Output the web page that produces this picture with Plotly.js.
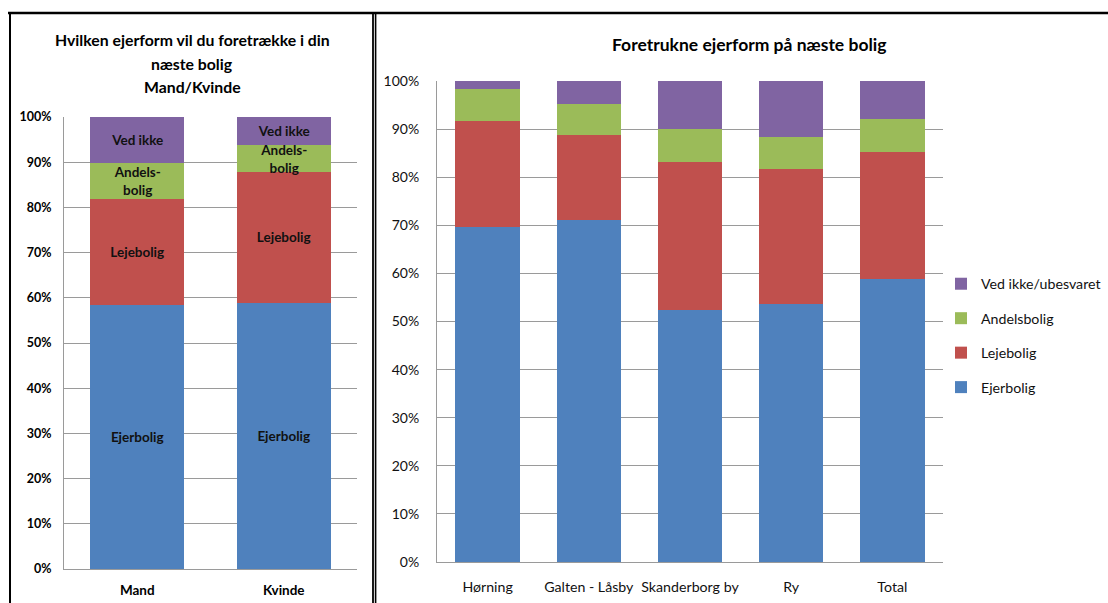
<!DOCTYPE html>
<html>
<head>
<meta charset="utf-8">
<script src="https://cdn.plot.ly/plotly-3.0.1.min.js"></script>
<style>
  html, body { margin: 0; padding: 0; background: #fff; }
  #chart { width: 1108px; height: 603px; }
</style>
</head>
<body>
<div id="chart"></div>
<script>
// Preferred type of tenure for the next home, by gender and by area (percent)
const genderCats = ['Mand', 'Kvinde'];
const areaCats = ['Hørning', 'Galten - Låsby', 'Skanderborg by', 'Ry', 'Total'];

const genderEjerbolig = [58.4, 58.9];
const genderLejebolig = [23.5, 28.9];
const genderAndelsbolig = [8.0, 5.9];
const genderVedIkke = [10.1, 6.3];

const areaEjerbolig = [69.6, 71.2, 52.4, 53.6, 58.9];
const areaLejebolig = [22.0, 17.5, 30.8, 28.2, 26.4];
const areaAndelsbolig = [6.7, 6.5, 6.8, 6.6, 6.7];
const areaVedIkke = [1.7, 4.8, 10.0, 11.6, 8.0];

const genderSegmentLabels = ['Ejerbolig', 'Lejebolig', 'Andels-<br>bolig', 'Ved ikke'];
const legendNames = ['Ejerbolig', 'Lejebolig', 'Andelsbolig', 'Ved ikke/ubesvaret'];
const leftTitleLines = ['Hvilken ejerform vil du foretrække i din', 'næste bolig', 'Mand/Kvinde'];
const rightTitle = 'Foretrukne ejerform på næste bolig';
const yTicks = [0, 10, 20, 30, 40, 50, 60, 70, 80, 90, 100];
const yTickText = yTicks.map(v => v + '%');

const COLORS = ['#4F81BD', '#C0504D', '#9BBB59', '#8064A2'];
const FONT = "Lato, 'Open Sans', sans-serif";

const W = 1108, H = 603;
const px = v => v / W;
const py = v => 1 - v / H;

const genderSeries = [genderEjerbolig, genderLejebolig, genderAndelsbolig, genderVedIkke];
const areaSeries = [areaEjerbolig, areaLejebolig, areaAndelsbolig, areaVedIkke];

const traces = [];

// left panel: stacked bars with the segment name written inside
genderSeries.forEach((vals, i) => {
  traces.push({
    type: 'bar',
    x: genderCats,
    y: vals,
    xaxis: 'x',
    yaxis: 'y',
    width: 0.64,
    name: legendNames[i],
    showlegend: false,
    marker: { color: COLORS[i], line: { width: 0 } },
    text: genderCats.map(() => genderSegmentLabels[i]),
    textposition: 'inside',
    insidetextanchor: 'middle',
    textangle: 0,
    constraintext: 'none',
    insidetextfont: { family: FONT, size: 13.5, color: '#111', weight: 'bold' },
    hoverinfo: 'x+y+name'
  });
});

// right panel: stacked bars per area, with legend
areaSeries.forEach((vals, i) => {
  traces.push({
    type: 'bar',
    x: areaCats,
    y: vals,
    xaxis: 'x2',
    yaxis: 'y2',
    width: 0.635,
    name: legendNames[i],
    legendgroup: 'g' + i,
    legendrank: 4 - i,
    marker: { color: COLORS[i], line: { width: 0 } },
    hoverinfo: 'x+y+name'
  });
});

const gridColor = '#9a9a9a';

const titleAnnotations = leftTitleLines.map((line, i) => ({
  xref: 'paper', yref: 'paper',
  x: px(192), y: py(39.5 + i * 23.7), xanchor: 'center', yanchor: 'middle',
  showarrow: false,
  text: line,
  font: { family: FONT, size: 15.8, color: '#000', weight: 'bold' }
}));

titleAnnotations.push({
  xref: 'paper', yref: 'paper',
  x: px(749), y: py(44), xanchor: 'center', yanchor: 'middle',
  showarrow: false,
  text: rightTitle,
  font: { family: FONT, size: 17.5, color: '#000', weight: 'bold' }
});

const layout = {
  width: W,
  height: H,
  margin: { l: 0, r: 0, t: 0, b: 0, autoexpand: false },
  paper_bgcolor: '#fff',
  plot_bgcolor: 'rgba(0,0,0,0)',
  barmode: 'stack',
  font: { family: FONT, color: '#000' },
  showlegend: true,
  legend: {
    x: px(941), xanchor: 'left',
    y: py(268), yanchor: 'top',
    traceorder: 'grouped',
    tracegroupgap: 13,
    itemwidth: 30,
    font: { family: FONT, size: 14.2, color: '#111' },
    bgcolor: 'rgba(0,0,0,0)'
  },
  xaxis: {
    domain: [px(64), px(357)],
    anchor: 'y',
    type: 'category',
    showgrid: false,
    showline: true, linecolor: gridColor, linewidth: 1,
    ticks: '',
    ticklabelstandoff: 9,
    tickfont: { family: FONT, size: 13.5, color: '#000', weight: 'bold' },
    fixedrange: true
  },
  yaxis: {
    domain: [py(569), py(117)],
    anchor: 'x',
    range: [0, 100],
    tickvals: yTicks,
    ticktext: yTickText,
    showgrid: true, gridcolor: gridColor, gridwidth: 1,
    zeroline: false,
    showline: true, linecolor: gridColor, linewidth: 1,
    ticks: '',
    ticklabelstandoff: 9,
    tickfont: { family: FONT, size: 12.5, color: '#000', weight: 'bold' },
    fixedrange: true
  },
  xaxis2: {
    domain: [px(437), px(943)],
    anchor: 'y2',
    type: 'category',
    showgrid: false,
    showline: true, linecolor: gridColor, linewidth: 1,
    ticks: '',
    tickangle: 0,
    ticklabelstandoff: 12,
    tickfont: { family: FONT, size: 14.2, color: '#111' },
    fixedrange: true
  },
  yaxis2: {
    domain: [py(562), py(81)],
    anchor: 'x2',
    range: [0, 100],
    tickvals: yTicks,
    ticktext: yTickText,
    showgrid: true, gridcolor: gridColor, gridwidth: 1,
    zeroline: false,
    showline: true, linecolor: gridColor, linewidth: 1,
    ticks: '',
    ticklabelstandoff: 14,
    tickfont: { family: FONT, size: 14, color: '#111' },
    fixedrange: true
  },
  annotations: titleAnnotations,
  shapes: [
    // panel frames
    { type: 'line', xref: 'paper', yref: 'paper', x0: px(8), x1: px(1108), y0: py(13), y1: py(13), line: { color: '#000', width: 2.5 } },
    { type: 'line', xref: 'paper', yref: 'paper', x0: px(10), x1: px(10), y0: py(12), y1: py(603), line: { color: '#000', width: 2 } },
    { type: 'line', xref: 'paper', yref: 'paper', x0: px(373), x1: px(373), y0: py(12), y1: py(603), line: { color: '#000', width: 1.8 } },
    { type: 'line', xref: 'paper', yref: 'paper', x0: px(375.6), x1: px(375.6), y0: py(12), y1: py(603), line: { color: '#000', width: 1.6 } }
  ]
};

Plotly.newPlot('chart', traces, layout, { displayModeBar: false, staticPlot: true });
</script>
</body>
</html>
